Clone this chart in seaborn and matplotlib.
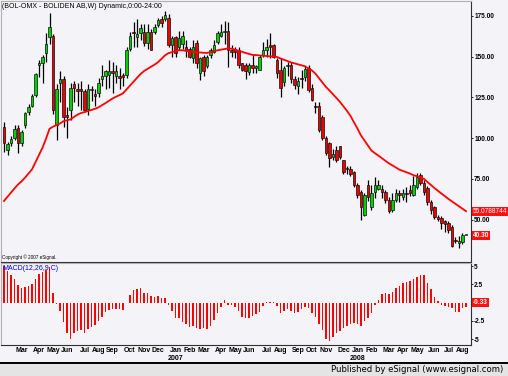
import numpy as np
import pandas as pd
import seaborn as sns
import matplotlib.pyplot as plt
from matplotlib.patches import Rectangle
from matplotlib.lines import Line2D

# Weekly bars BOL-OMX (Boliden AB)
week_start = "2006-01-27"
opens = [107, 92.7, 97, 100, 106, 97, 108, 116, 119.7, 126.5,
         145, 146, 152, 162, 163, 108, 134, 136, 114, 117,
         133, 130, 130, 129, 118, 130, 127, 128, 136, 138,
         139, 141, 138, 138, 139, 139, 155, 165, 162, 164.5,
         165, 158.5, 165, 165, 169.5, 173, 173, 174, 157, 162,
         156, 158, 156, 155, 149, 158.5, 140, 150, 144, 151,
         153, 159, 163, 165, 166, 154, 155, 154, 146, 145,
         140.6, 145, 143, 142, 151, 154, 157, 157, 148, 142,
         134.5, 144, 145, 136, 132, 137, 137.5, 143, 130.8, 120,
         120, 113, 100, 97, 88.4, 92.7, 95, 86.5, 81.5, 81,
         79, 71, 67, 52.8, 71, 57.7, 67, 69, 69, 67,
         62, 56, 62, 66, 64, 66, 68, 65, 70, 77.3,
         72.4, 69.3, 60.7, 57.7, 51.5, 51, 49, 47.8, 45.4, 37,
         35.5, 36.2, 40.3]
highs = [110, 97.6, 101, 108, 108, 105, 116, 121, 127, 140,
         148, 151, 164.5, 177, 164, 133, 141, 138, 119, 134,
         135, 134, 135, 130, 133, 132, 130, 137, 145, 142,
         148, 147, 145, 143, 140, 156, 165, 171, 173, 170,
         170, 170, 167, 170, 173.5, 175, 178, 176, 163, 163,
         166, 166, 160, 156, 160, 160, 150, 151, 151, 155.5,
         160, 166, 170, 172, 171, 157, 156, 156, 146, 146,
         146, 151, 145, 151, 159, 161, 164.5, 158, 149, 149,
         144, 147, 147, 138, 137.5, 142, 144, 145, 133, 122,
         122, 114, 101, 97.6, 93, 95, 95, 86.5, 83, 83,
         80, 72.5, 68, 66, 74, 71, 76, 74, 71, 68,
         64, 66, 69, 68, 69, 70, 71, 77, 78.5, 78.5,
         74, 70.5, 62, 58.5, 53, 52, 50, 49, 46.6, 39,
         39.7, 41.5, 40.3]
lows = [91.5, 89.6, 95, 98.6, 91, 95, 106, 114, 119, 125,
        137.5, 134, 146.7, 158, 115, 99, 122, 107, 100, 111,
        122, 120, 117, 116, 114, 123, 120, 125, 132, 130,
        131, 128, 134, 130, 132, 137, 153.5, 156, 156, 160,
        156.5, 155, 154, 164, 168, 168.5, 172, 156, 150, 150,
        154, 155, 150, 149, 146, 143, 135.7, 138, 143, 149,
        152, 157.5, 162, 158, 143.7, 150, 149, 143, 141, 136.5,
        139, 140, 140, 142, 150, 150, 149, 149, 137, 125,
        132, 138, 134, 130, 127, 131, 135, 128.5, 122.6, 115.7,
        103.7, 99, 89.5, 82, 86.5, 85.5, 87, 78, 78, 77,
        70, 63, 49.7, 52, 61.5, 56, 63, 68, 63, 60,
        54, 54.6, 60.5, 60.5, 62, 61, 64.5, 64.5, 69, 71,
        65, 59, 53.5, 50.5, 49, 44, 42.3, 41.5, 33.2, 35.4,
        32.5, 35, 40.3]
closes = [97, 96.4, 99.5, 105.6, 97, 103.8, 115.4, 119, 125.6, 139.4,
          146, 150, 158, 168, 117, 130, 136, 113, 113, 131,
          131, 129, 129, 117, 130, 129.5, 126, 134, 138, 141,
          141, 140, 141, 137, 137.5, 154, 163, 164.5, 164, 167.5,
          158.5, 165, 154, 168, 172.5, 170.7, 175.6, 157, 161.5, 152,
          161.5, 163, 154, 150, 156, 146, 149, 141, 150, 154,
          157, 164.5, 165, 166, 154, 153, 153, 145, 142, 141,
          145, 143, 144, 150, 154, 156, 156, 150, 140, 131,
          143, 145, 136, 132.6, 135, 136, 142.4, 129.5, 123.4, 119,
          105, 100, 91, 88, 90, 86.5, 88.4, 79, 81, 78,
          71, 65, 57.7, 65, 63.8, 66, 71, 71, 67, 62,
          55, 62, 66, 65, 66.5, 65.5, 66, 71, 76, 72.4,
          67, 60.7, 55.8, 51.5, 50.5, 47.8, 47.5, 43.5, 33.7, 36.5,
          36.5, 40.5, 40.3]
moving_avg = [61.4, 64, 66.6, 69.1, 71.5, 73.4, 75.7, 78.2, 80.8, 85.2,
              89.5, 94.1, 99.6, 105.7, 107, 108, 109, 110.4, 110.9, 111.5,
              113, 114.4, 115.4, 116, 116.7, 117.3, 118, 118.9, 120.2, 121.5,
              122.9, 124.3, 125.4, 126.4, 127.5, 129.9, 132.3, 134.8, 137, 139.3,
              141.2, 142.5, 143.8, 145.1, 146.6, 148.7, 150.8, 152.2, 152.8, 153.4,
              154, 153.9, 153.6, 153.2, 152.9, 152.7, 152.6, 152.4, 152.3, 152.8,
              153.3, 153.9, 154.3, 154.7, 155.1, 154.9, 154.3, 153.6, 153, 152.3,
              151.7, 151.1, 151, 150.8, 150.6, 150.4, 150.2, 150, 149.8, 148.9,
              148.1, 147.3, 146.5, 145.9, 145.3, 144.7, 144.1, 142.8, 141.5, 139.5,
              136.8, 134.1, 131.4, 129.2, 126.9, 124.6, 122.2, 119.4, 116.7, 113.6,
              109.7, 105.8, 101.6, 98.5, 95.4, 92.3, 90.7, 89.2, 87.6, 86,
              84.5, 83.2, 81.9, 80.6, 79.8, 79, 78.2, 77.2, 76.6, 75.9,
              74.9, 73, 71.2, 69.3, 67.6, 65.9, 64.3, 62.6, 61.1, 59.6,
              58.1, 56.6, 55.1]
macd_hist = [5.0, 4.37, 3.78, 3.2, 2.4, 2.05, 2.2, 2.3, 2.55, 3.3,
             3.9, 4.2, 4.4, 4.9, 1.37, -0.23, -1.1, -2.7, -4.2, -5.0,
             -4.1, -3.9, -3.7, -4.2, -3.6, -3.3, -3.0, -2.5, -1.9, -1.3,
             -1.0, -0.8, -0.8, -0.86, -1.0, -0.05, 1.05, 1.73, 1.82, 2.05,
             1.37, 1.27, 0.9, 0.82, 0.9, 0.68, 0.68, -0.3, -1.2, -2.05,
             -2.1, -2.6, -2.9, -3.3, -3.2, -3.4, -3.6, -3.5, -3.6, -3.2,
             -2.4, -1.45, -0.64, 0.36, -0.3, -0.3, -0.55, -1.2, -1.9, -2.1,
             -2.05, -1.8, -1.6, -1.3, -0.45, 0.15, 0.15, 0.15, -0.45, -1.37,
             -1.1, -0.9, -1.14, -1.37, -1.23, -0.9, -0.64, -0.77, -1.37, -1.9,
             -2.9, -3.7, -5.0, -5.2, -4.7, -4.2, -3.8, -3.5, -3.2, -2.9,
             -2.8, -2.9, -3.2, -2.45, -2.1, -1.37, -0.3, 0.36, 1.2, 1.37,
             1.2, 1.5, 1.96, 2.3, 2.64, 2.87, 2.96, 3.19, 3.55, 3.78,
             3.78, 2.73, 1.82, 0.82, 0.27, -0.32, -0.45, -0.64, -0.77, -1.23,
             -1.32, -0.77, -0.55]

price_ticks = [175, 150, 125, 100, 75, 50]
macd_ticks = [5, 2.5, -2.5, -5]
macd_tick_labels = ["5", "2.5", "-2.5", "-5"]
ma_label = "55.0788744"
last_label = "40.30"
macd_label = "-0.33"
title = "(BOL-OMX - BOLIDEN AB,W) Dynamic,0:00-24:00"

df = pd.DataFrame({"open": opens, "high": highs, "low": lows,
                   "close": closes, "ma": moving_avg, "macd": macd_hist})
df["date"] = pd.date_range(week_start, periods=len(df), freq="W-FRI")
df["i"] = np.arange(len(df))

W, H = 508, 376
BG = "#f4f3f7"
FONT = ["Liberation Sans", "DejaVu Sans"]


def rect(x0, y0, x1, y1):
    return [x0 / W, 1 - y1 / H, (x1 - x0) / W, (y1 - y0) / H]


fig = plt.figure(figsize=(W / 100, H / 100), dpi=100, facecolor=BG)
ax = fig.add_axes(rect(1, 1, 471, 262), facecolor=BG)
ax2 = fig.add_axes(rect(1, 263, 471, 345), facecolor=BG, sharex=ax)

# candles
up = df["close"] >= df["open"]
body_lo = df[["open", "close"]].min(axis=1)
body_h = (df["close"] - df["open"]).abs().clip(lower=0.7)
ax.vlines(df["i"], df["low"], df["high"], color="black", lw=0.9, zorder=2)
ax.bar(df["i"], body_h, bottom=body_lo, width=0.58,
       color=np.where(up, "#00d000", "#ee0000"), edgecolor="black",
       linewidth=0.45, zorder=3)
sns.lineplot(data=df, x="i", y="ma", color="#ff0000", lw=1.3, ax=ax, zorder=4)

# MACD histogram
sns.barplot(data=df, x="i", y="macd", native_scale=True, color="#ff0000",
            saturation=1, width=0.45, errorbar=None, ax=ax2)

ax.set_xlim(-0.86, 133.43)
ax.set_ylim(23.9, 184.2)
ax2.set_ylim(-5.78, 5.42)

for a in (ax, ax2):
    a.set_xlabel("")
    a.set_ylabel("")
    a.yaxis.tick_right()
    for s in ("top", "left"):
        a.spines[s].set_color("#b0b0b0")
        a.spines[s].set_linewidth(0.8)
    a.spines["right"].set_color("#303030")
    a.spines["bottom"].set_color("#303030")
    a.tick_params(axis="y", length=1.5, width=0.6, pad=0.8, labelsize=4.7)

ax.set_yticks(price_ticks)
ax.set_yticklabels([f"{v:.2f}" for v in price_ticks], fontweight="bold",
                   family=FONT)
ax.tick_params(axis="x", bottom=False, labelbottom=False)

ax2.set_yticks(macd_ticks)
ax2.set_yticklabels(macd_tick_labels, fontweight="bold", family=FONT)

# month labels at the first bar of each month
firsts = df.groupby(df["date"].dt.to_period("M"))["i"].first()
firsts = firsts[firsts.index >= pd.Period("2006-03", "M")]
ax2.set_xticks(firsts.values)
ax2.set_xticklabels([p.strftime("%b") for p in firsts.index],
                    fontweight="bold", family=FONT, fontsize=5)
ax2.tick_params(axis="x", length=0, pad=1.6)
for p, i in firsts.items():
    if p.month == 1:
        ax2.text(i, -0.17, str(p.year), transform=ax2.get_xaxis_transform(),
                 ha="center", va="center", fontsize=5, fontweight="bold",
                 family=FONT)

# texts
fig.text(2 / W, 1 - 6 / H, title, fontsize=5, family=FONT, va="center")
fig.text(2 / W, 1 - 257 / H, "Copyright \u00a9 2007 eSignal.", fontsize=3.3,
         family=FONT, va="center")
fig.text(2 / W, 1 - 268 / H, "MACD(12,26,9,C)", fontsize=5, family=FONT,
         color="#0000ee", va="center")

box = dict(boxstyle="square,pad=0.15", fc="#ff1010", ec="none")
ax.annotate(ma_label, xy=(1.004, moving_avg[-1]), xycoords=("axes fraction", "data"),
            fontsize=4.7, color="white", family=FONT, va="center", bbox=box,
            annotation_clip=False)
ax.annotate(last_label, xy=(1.004, closes[-1]), xycoords=("axes fraction", "data"),
            fontsize=4.7, color="white", family=FONT, fontweight="bold",
            va="center", bbox=box, annotation_clip=False)
ax2.annotate(macd_label, xy=(1.004, 0), xycoords=("axes fraction", "data"),
             fontsize=4.7, color="white", family=FONT, fontweight="bold",
             va="center", bbox=box, annotation_clip=False)

# footer band
fig.patches.append(Rectangle((0, 0), 1, 14 / H, transform=fig.transFigure,
                             fc="#e4e4e4", ec="none", zorder=0))
fig.lines.append(Line2D([0, 1], [1 - 362.5 / H] * 2, transform=fig.transFigure,
                        color="black", lw=1.4))
fig.text(503 / W, 1 - 369.5 / H, "Published by eSignal (www.esignal.com)",
         fontsize=6.1, ha="right", va="center")

fig.savefig("out.png", dpi=100, facecolor=BG)
